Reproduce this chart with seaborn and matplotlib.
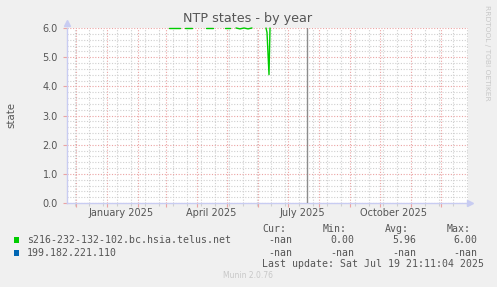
import numpy as np
import pandas as pd
import matplotlib
matplotlib.use("Agg")
import matplotlib.pyplot as plt
import matplotlib.dates as mdates
from matplotlib.patches import Rectangle
import seaborn as sns

# ---------------- data ----------------
green_dates = ["2025-03-04", "2025-03-15",
               "2025-03-20", "2025-03-27",
               "2025-04-10", "2025-04-17",
               "2025-04-29", "2025-05-04",
               "2025-05-10", "2025-05-14", "2025-05-18", "2025-05-22", "2025-05-26",
               "2025-06-09", "2025-06-10", "2025-06-12", "2025-06-13"]
green_values = [6.0, 6.0,
                6.0, 6.0,
                6.0, 6.0,
                6.0, 6.0,
                6.0, 5.97, 6.0, 5.97, 6.0,
                6.0, 5.85, 4.4, 6.0]
green_segment = [1, 1,
                 2, 2,
                 3, 3,
                 4, 4,
                 5, 5, 5, 5, 5,
                 6, 6, 6, 6]

series_names = ["s216-232-132-102.bc.hsia.telus.net", "199.182.221.110"]
series_colors = ["#00CC00", "#0066B3"]
stat_cur = ["-nan", "-nan"]
stat_min = ["0.00", "-nan"]
stat_avg = ["5.96", "-nan"]
stat_max = ["6.00", "-nan"]

x_start = "2024-11-22"
x_end = "2025-12-28"
now_time = "2025-07-19 21:11"
month_label_dates = ["2025-01-15", "2025-04-15", "2025-07-15", "2025-10-15"]
month_labels = ["January 2025", "April 2025", "July 2025", "October 2025"]
y_ticks = [0, 1, 2, 3, 4, 5, 6]

title = "NTP states - by year"
y_label = "state"
last_update = "Last update: Sat Jul 19 21:11:04 2025"
footer = "Munin 2.0.76"
side_text = "RRDTOOL / TOBI OETIKER"

# ---------------- style ----------------
sns.set_theme(style="white")
plt.rcParams["font.family"] = ["DejaVu Sans"]

W, H = 497, 287
DPI = 100
BG = "#F0F0F0"
TXT = "#555555"
MGRID = "#EBA3A3"
GRID = "#CFCFCF"
AXC = "#C8CCF2"

fig = plt.figure(figsize=(W / DPI, H / DPI), dpi=DPI, facecolor=BG)

L, R, T, B = 67, 468, 28, 203
ax = fig.add_axes([L / W, 1 - B / H, (R - L) / W, (B - T) / H])
ax.set_facecolor("white")


def fx(x):
    return x / W


def fy(y):
    return 1 - y / H


df = pd.DataFrame({"date": pd.to_datetime(green_dates),
                   "value": green_values,
                   "seg": green_segment})

sns.lineplot(data=df, x="date", y="value", units="seg", estimator=None,
             color=series_colors[0], lw=1.0, ax=ax, legend=False, clip_on=False,
             zorder=5)

ax.axvline(pd.Timestamp(now_time), color="#8C8C8C", lw=1.0, zorder=4)

ax.set_xlim(pd.Timestamp(x_start), pd.Timestamp(x_end))
ax.set_ylim(0, 6)

# grids
ax.xaxis.set_major_locator(mdates.MonthLocator())
minor_dates = pd.date_range("2024-11-30", x_end, freq="14D")
ax.xaxis.set_minor_locator(matplotlib.ticker.FixedLocator(mdates.date2num(minor_dates)))
ax.xaxis.set_major_formatter(matplotlib.ticker.NullFormatter())
ax.set_yticks(y_ticks)
ax.yaxis.set_minor_locator(matplotlib.ticker.MultipleLocator(0.2))
ax.yaxis.set_major_formatter(matplotlib.ticker.FormatStrFormatter("%.1f"))

ax.grid(which="minor", color=GRID, lw=0.8, linestyle=(0, (1, 1.5)), zorder=1)
ax.grid(which="major", color=MGRID, lw=0.8, linestyle=(0, (1, 1.5)), zorder=2)
ax.set_axisbelow(True)

ax.tick_params(axis="x", which="major", length=3, width=0.8, color=MGRID,
               direction="out", bottom=True)
ax.tick_params(axis="x", which="minor", length=2, width=0.8, color=GRID,
               direction="out", bottom=True)
ax.tick_params(axis="y", which="major", length=3, width=0.8, color=MGRID,
               direction="out", left=True, labelsize=7, labelcolor=TXT, pad=3.5)
ax.tick_params(axis="y", which="minor", length=0)
ax.set_xlabel("")
ax.set_ylabel("")

for s in ["top", "right"]:
    ax.spines[s].set_visible(False)
for s in ["left", "bottom"]:
    ax.spines[s].set_color(AXC)
    ax.spines[s].set_linewidth(1.0)

# arrows at axis ends
ax.plot([0], [1.03], marker="^", color=AXC, markersize=5, transform=ax.transAxes,
        clip_on=False, zorder=6)
ax.plot([1.006], [0], marker=">", color=AXC, markersize=5, transform=ax.transAxes,
        clip_on=False, zorder=6)

# month labels
xt = ax.get_xaxis_transform()
for d, lab in zip(month_label_dates, month_labels):
    ax.text(pd.Timestamp(d), -4.5 / (B - T), lab, transform=xt, ha="center",
            va="top", fontsize=7, color=TXT)

# title & labels
fig.text(fx(248), fy(18.5), title, ha="center", va="center", fontsize=9.2, color=TXT)
fig.text(fx(11), fy(115), y_label, ha="center", va="center", rotation=90,
         fontsize=7.3, color=TXT)
fig.text(fx(487), fy(53), side_text, ha="center", va="center", rotation=270,
         fontsize=5.4, color="#C8C8C8")
fig.text(fx(248), fy(276), footer, ha="center", va="center", fontsize=5.5,
         color="#C8C8C8")

# legend
mono = dict(family="DejaVu Sans Mono", fontsize=7.1, color=TXT)
col_x = [262, 323, 385, 447]
fig.text(fx(col_x[0]), fy(232), "Cur:", ha="left", va="baseline", **mono)
fig.text(fx(col_x[1]), fy(232), "Min:", ha="left", va="baseline", **mono)
fig.text(fx(col_x[2]), fy(232), "Avg:", ha="left", va="baseline", **mono)
fig.text(fx(col_x[3]), fy(232), "Max:", ha="left", va="baseline", **mono)

val_right = [292, 354, 416, 477]
rows_y = [243, 256]
for i, name in enumerate(series_names):
    yb = rows_y[i]
    fig.patches.append(Rectangle((fx(14), fy(yb - 0.5)), 5 / W, 6 / H,
                                 transform=fig.transFigure, facecolor=series_colors[i],
                                 edgecolor="none"))
    fig.text(fx(27), fy(yb), name, ha="left", va="baseline", **mono)
    for xr, v in zip(val_right, [stat_cur[i], stat_min[i], stat_avg[i], stat_max[i]]):
        fig.text(fx(xr), fy(yb), v, ha="right", va="baseline", **mono)

fig.text(fx(262), fy(267), last_update, ha="left", va="baseline", **mono)

fig.savefig("out.png", dpi=DPI, facecolor=BG)
